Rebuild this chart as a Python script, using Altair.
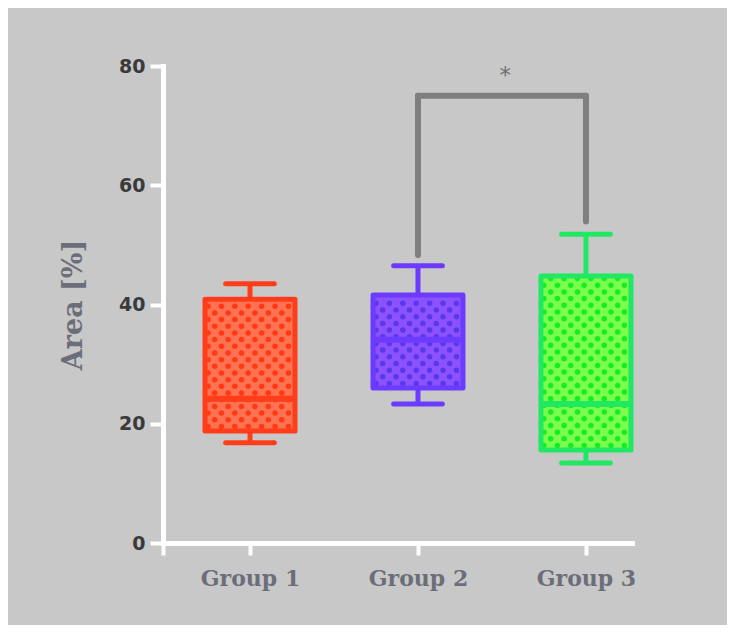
import altair as alt
import pandas as pd

# ---- data ----
groups = ["Group 1", "Group 2", "Group 3"]
group_pos = [1, 2, 3]
whisker_low = [16.8, 23.3, 13.4]
q1 = [18.8, 26.0, 15.6]
median = [24.2, 34.1, 23.3]
q3 = [40.9, 41.6, 44.8]
whisker_high = [43.5, 46.5, 51.8]

# significance bracket between Group 2 and Group 3
bracket_groups = [2, 3]
bracket_start = [48.3, 53.9]
bracket_top = 75.0
star_label = "*"
star_pos = 2.52
star_y = 78.3

y_ticks = [0, 20, 40, 60, 80]

# ---- styles ----
outline_colors = ["#ff3d1a", "#6b3cff", "#20e862"]
fill_colors = ["#ff7352", "#8d52ff", "#7aff4c"]
dot_colors = ["#ff3816", "#5838ea", "#16ec24"]
BG = "#c8c8c8"
LABEL_GRAY = "#6b6e78"

df = pd.DataFrame({
    "group": groups, "idx": group_pos, "lo": whisker_low, "q1": q1,
    "med": median, "q3": q3, "hi": whisker_high,
})
br = pd.DataFrame({"idx": bracket_groups, "start": bracket_start,
                   "top": [bracket_top] * len(bracket_groups)})
br_h = pd.DataFrame({"x0": [bracket_groups[0]], "x1": [bracket_groups[1]],
                     "y": [bracket_top]})
star = pd.DataFrame({"x": [star_pos], "y": [star_y], "t": [star_label]})

x_dom = [0.482, 3.274]
xscale = alt.Scale(domain=x_dom, nice=False, zero=False, padding=0)
yscale = alt.Scale(domain=[0, 80], nice=False, padding=0)

x_axis = alt.Axis(
    values=[x_dom[0]] + group_pos, title=None, grid=False,
    labelExpr="datum.value >= 1 ? 'Group ' + datum.value : ''",
    labelFlush=False, domainColor="white", domainWidth=5, domainCap="square",
    tickColor="white", tickWidth=4, tickSize=12, labelPadding=13,
    labelFont="DejaVu Serif", labelFontWeight="bold", labelFontSize=22,
    labelColor=LABEL_GRAY,
)
y_axis = alt.Axis(
    values=y_ticks, title="Area [%]", grid=False, format="d",
    domainColor="white", domainWidth=5, domainCap="square",
    tickColor="white", tickWidth=4, tickSize=13, labelPadding=5,
    labelFont="DejaVu Sans", labelFontWeight="bold", labelFontSize=19,
    labelColor="#3a3a3a", titleFont="DejaVu Serif", titleFontWeight="bold",
    titleFontSize=27, titleColor=LABEL_GRAY, titlePadding=31,
)

base = alt.Chart(df)
layers = []
for i, g in enumerate(groups):
    sel = base.transform_filter(alt.datum.group == g)
    # box fill
    layers.append(sel.mark_bar(size=90, color=fill_colors[i]).encode(
        x=alt.X("idx:Q", scale=xscale, axis=x_axis),
        y=alt.Y("q1:Q", scale=yscale, axis=y_axis), y2="q3:Q"))
    # dotted texture, drawn as dashed rules with round caps
    dots = (sel.transform_calculate(rows="sequence(datum.q1 + 0.75, datum.q3 - 0.3, 1.12)")
            .transform_flatten(["rows"])
            .transform_calculate(k="round((datum.rows - datum.q1 - 0.75) / 1.12) % 2",
                                 xa="datum.idx - 0.25", xb="datum.idx + 0.25"))
    for parity, off in [(0, 0), (1, 6.7)]:
        layers.append(dots.transform_filter(alt.datum.k == parity).mark_rule(
            color=dot_colors[i], strokeWidth=5.5, strokeCap="round",
            strokeDash=[0, 13.4], strokeDashOffset=off).encode(
            x=alt.X("xa:Q", scale=xscale), x2="xb:Q", y=alt.Y("rows:Q", scale=yscale)))
    # box outline
    layers.append(sel.mark_bar(size=90, fillOpacity=0, stroke=outline_colors[i],
                               strokeWidth=5, strokeJoin="round").encode(
        x=alt.X("idx:Q", scale=xscale), y=alt.Y("q1:Q", scale=yscale), y2="q3:Q"))
    # median
    layers.append(sel.mark_tick(orient="horizontal", size=90, thickness=6,
                                color=outline_colors[i], opacity=1).encode(
        x=alt.X("idx:Q", scale=xscale), y=alt.Y("med:Q", scale=yscale)))
    # whiskers
    for a, b in [("lo", "q1"), ("q3", "hi")]:
        layers.append(sel.mark_rule(color=outline_colors[i], strokeWidth=5).encode(
            x=alt.X("idx:Q", scale=xscale), y=alt.Y(f"{a}:Q", scale=yscale), y2=f"{b}:Q"))
    for c in ["lo", "hi"]:
        layers.append(sel.mark_rule(color=outline_colors[i], strokeWidth=5,
                                    strokeCap="round").transform_calculate(
            xa="datum.idx - 0.145", xb="datum.idx + 0.145").encode(
            x=alt.X("xa:Q", scale=xscale), x2="xb:Q", y=alt.Y(f"{c}:Q", scale=yscale)))

bracket_v = alt.Chart(br).mark_rule(color="#7f7f7f", strokeWidth=6, strokeCap="round").encode(
    x=alt.X("idx:Q", scale=xscale), y=alt.Y("start:Q", scale=yscale), y2="top:Q")
bracket_hz = alt.Chart(br_h).mark_rule(color="#7f7f7f", strokeWidth=6, strokeCap="round").encode(
    x=alt.X("x0:Q", scale=xscale), x2="x1:Q", y=alt.Y("y:Q", scale=yscale))
star_t = alt.Chart(star).mark_text(color="#707070", fontSize=23, font="DejaVu Sans",
                                   baseline="middle").encode(
    x=alt.X("x:Q", scale=xscale), y=alt.Y("y:Q", scale=yscale), text="t:N")

chart = alt.layer(*layers, bracket_v, bracket_hz, star_t).properties(
    width=469, height=477,
    autosize=alt.AutoSizeParams(type="none"),
    padding={"left": 155, "top": 58, "right": 95, "bottom": 82},
    background=BG,
).configure_view(stroke=None)

chart.save("out.html", embed_options={"renderer": "svg", "actions": False})
